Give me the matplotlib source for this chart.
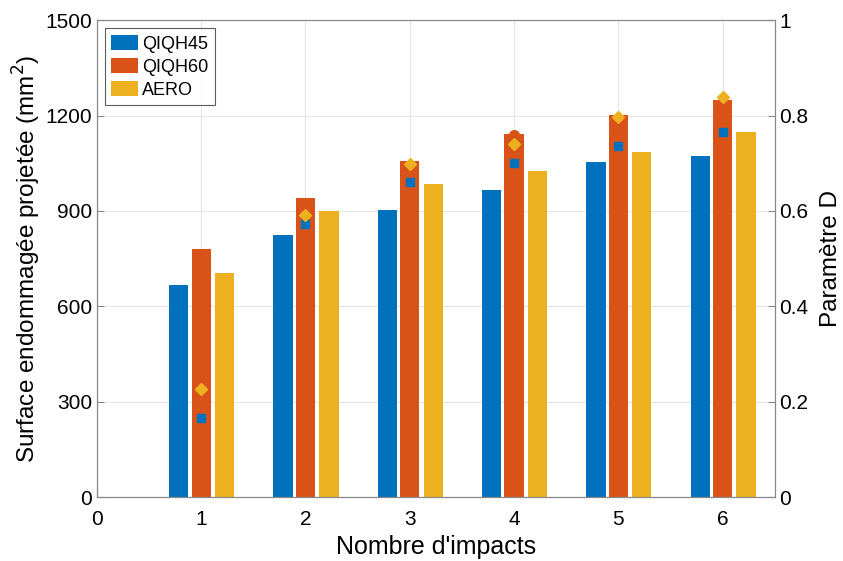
import matplotlib.pyplot as plt
import numpy as np

plt.rcParams['font.family'] = ['Liberation Sans', 'DejaVu Sans']

impacts = [1, 2, 3, 4, 5, 6]
series = ['QIQH45', 'QIQH60', 'AERO']
surf_qiqh45 = [668, 825, 904, 966, 1054, 1073]
surf_qiqh60 = [781, 941, 1057, 1142, 1202, 1249]
surf_aero = [706, 900, 985, 1026, 1086, 1148]

d_qiqh45 = [0.165, 0.573, 0.661, 0.701, 0.736, 0.766]
d_qiqh60 = [0.19, 0.58, 0.68, 0.759, 0.77, 0.80]
d_aero = [0.226, 0.592, 0.699, 0.741, 0.797, 0.839]

colors = ['#0072BD', '#D95319', '#EDB120']
axis_col = '#888888'

fig = plt.figure(figsize=(8.43, 5.61), dpi=100)
ax = fig.add_axes([0.115, 0.114, 0.804, 0.85])

x = np.array(impacts)
w = 0.185
offsets = [-0.215, 0.0, 0.225]
for vals, off, c, name in zip([surf_qiqh45, surf_qiqh60, surf_aero], offsets, colors, series):
    ax.bar(x + off, vals, width=w, color=c, label=name, zorder=2)

ax.set_xlim(0, 6.5)
ax.set_ylim(0, 1500)
ax.set_xticks(range(0, 7))
ax.set_yticks([0, 300, 600, 900, 1200, 1500])
ax.grid(True, color='#e6e6e6', linewidth=0.8, zorder=0)
ax.set_axisbelow(True)
ax.set_xlabel("Nombre d'impacts", fontsize=18, labelpad=5)
ax.set_ylabel('Surface endommagée projetée (mm$^2$)', fontsize=17.5, labelpad=2)
ax.tick_params(direction='in', labelsize=15, color=axis_col, length=5)
ax.tick_params(axis='x', pad=9)
for s in ax.spines.values():
    s.set_color(axis_col)

ax2 = ax.twinx()
ax2.set_ylim(0, 1)
ax2.set_yticks([0, 0.2, 0.4, 0.6, 0.8, 1])
ax2.set_yticklabels(['0', '0.2', '0.4', '0.6', '0.8', '1'])
ax2.plot(x, d_qiqh60, 'o', color=colors[1], markersize=7, linestyle='none')
ax2.plot(x, d_qiqh45, 's', color=colors[0], markersize=6, linestyle='none')
ax2.plot(x, d_aero, 'D', color=colors[2], markersize=6.5, linestyle='none')
ax2.set_ylabel('Paramètre D', fontsize=17.5, labelpad=8)
ax2.tick_params(direction='in', labelsize=15, color=axis_col, length=5)
for s in ax2.spines.values():
    s.set_color(axis_col)

leg = ax.legend(loc='upper left', fontsize=13, frameon=True, fancybox=False,
                edgecolor='#333333', borderaxespad=0.45, handlelength=1.5,
                handleheight=0.95, labelspacing=0.28, handletextpad=0.2,
                borderpad=0.35)
leg.get_frame().set_linewidth(0.8)

fig.savefig('out.png', dpi=100)
